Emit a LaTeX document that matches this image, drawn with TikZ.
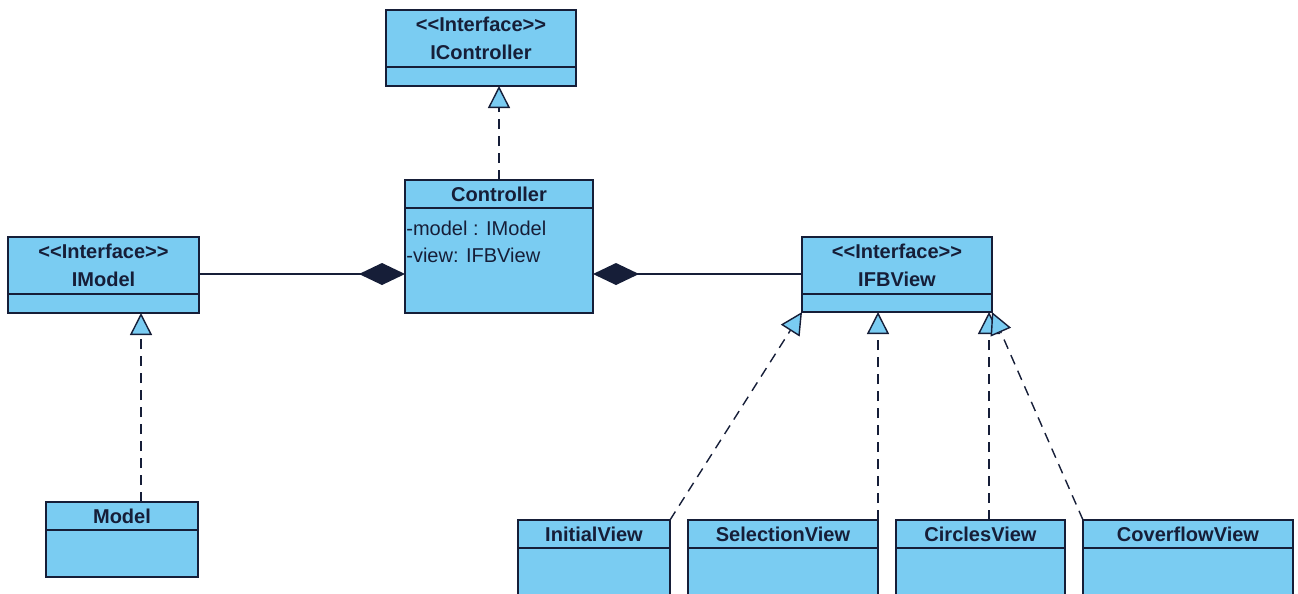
\documentclass[tikz,border=0pt]{standalone}
\usepackage{fontspec}
\setmainfont{Liberation Sans}
\usetikzlibrary{arrows.meta,positioning}
\newlength\px
\setlength\px{0.02cm}
\definecolor{umlfill}{RGB}{122,204,242}
\definecolor{umlline}{RGB}{22,30,56}

\begin{document}
\begin{tikzpicture}[x=1\px, y=-1\px, node distance=18\px,
    every node/.style={font=\fontsize{11.4}{16}\selectfont, text=umlline},
    head/.style={rectangle, draw=umlline, fill=umlfill, line width=0.8pt, inner sep=0, outer sep=0, align=center},
    comp/.style={rectangle, draw=umlline, fill=umlfill, line width=0.8pt, inner sep=0, outer sep=0},
    real/.style={draw=umlline, line width=0.8pt, dash pattern=on 0.2cm off 0.14cm,
                 -{Triangle[fill=umlfill, length=0.44cm, width=0.44cm]}},
    whole/.style={draw=umlline, line width=0.8pt, -{Diamond[length=0.92cm, width=0.44cm]}}]
  \useasboundingbox (0,0) rectangle (1298,593);
  \clip (0,0) rectangle (1298,593);
  \node (icon) at (481,38.5) [head, minimum width=190\px, minimum height=57\px] {{\bf <{}<Interface>{}>}\\{\bf IController}};
  \node (icon2) [below=0pt of icon, comp, minimum width=190\px, minimum height=19\px] {};
  \node (ctrl) at (499,194) [head, minimum width=188\px, minimum height=28\px] {{\bf Controller}};
  \node (ctrl2) [below=0pt of ctrl, comp, minimum width=188\px, minimum height=105\px] {};
  \node (attr1) at ([yshift=-20\px]ctrl2.north west) [anchor=west, inner sep=1\px] {-model : IModel};
  \node (attr2) at ([yshift=-47\px]ctrl2.north west) [anchor=west, inner sep=1\px] {-view: IFBView};
  \node (imod) at (103.5,265.5) [head, minimum width=191\px, minimum height=57\px] {{\bf <{}<Interface>{}>}\\{\bf IModel}};
  \node (imod2) [below=0pt of imod, comp, minimum width=191\px, minimum height=19\px] {};
  \node (ifbv) at (897,265.5) [head, minimum width=190\px, minimum height=57\px] {{\bf <{}<Interface>{}>}\\{\bf IFBView}};
  \node (ifbv2) [below=0pt of ifbv, comp, minimum width=190\px, minimum height=18\px] {};
  \node (mod) at (122,516) [head, minimum width=152\px, minimum height=28\px] {{\bf Model}};
  \node (mod2) [below=0pt of mod, comp, minimum width=152\px, minimum height=47\px] {};
  \node (v1) at (594,534) [head, minimum width=152\px, minimum height=28\px] {{\bf InitialView}};
  \node (v2) [right=of v1, head, minimum width=190\px, minimum height=28\px] {{\bf SelectionView}};
  \node (v3) [right=of v2, head, minimum width=169\px, minimum height=28\px] {{\bf CirclesView}};
  \node (v4) [right=of v3, head, minimum width=210\px, minimum height=28\px] {{\bf CoverflowView}};
  \node (b1) [below=0pt of v1, comp, minimum width=152\px, minimum height=60\px] {};
  \node (b2) [below=0pt of v2, comp, minimum width=190\px, minimum height=60\px] {};
  \node (b3) [below=0pt of v3, comp, minimum width=169\px, minimum height=60\px] {};
  \node (b4) [below=0pt of v4, comp, minimum width=210\px, minimum height=60\px] {};
  \draw[real] (ctrl.north) -- (ctrl.north |- icon2.south);
  \draw[whole] ([yshift=-8.5\px]imod.east) -- ([yshift=-13.5\px]ctrl2.west);
  \draw[whole] ([yshift=-8.5\px]ifbv.west) -- ([yshift=-13.5\px]ctrl2.east);
  \draw[real] ([xshift=19\px]mod.north) -- ([xshift=19\px]mod.north |- imod2.south);
  \draw[real] (v1.north east) -- (ifbv2.south west);
  \draw[real] (v2.north east) -- (v2.north east |- ifbv2.south);
  \draw[real] ([xshift=8.5\px]v3.north) -- ([xshift=8.5\px]v3.north |- ifbv2.south);
  \draw[real] (v4.north west) -- (ifbv2.south east);
\end{tikzpicture}
\end{document}
